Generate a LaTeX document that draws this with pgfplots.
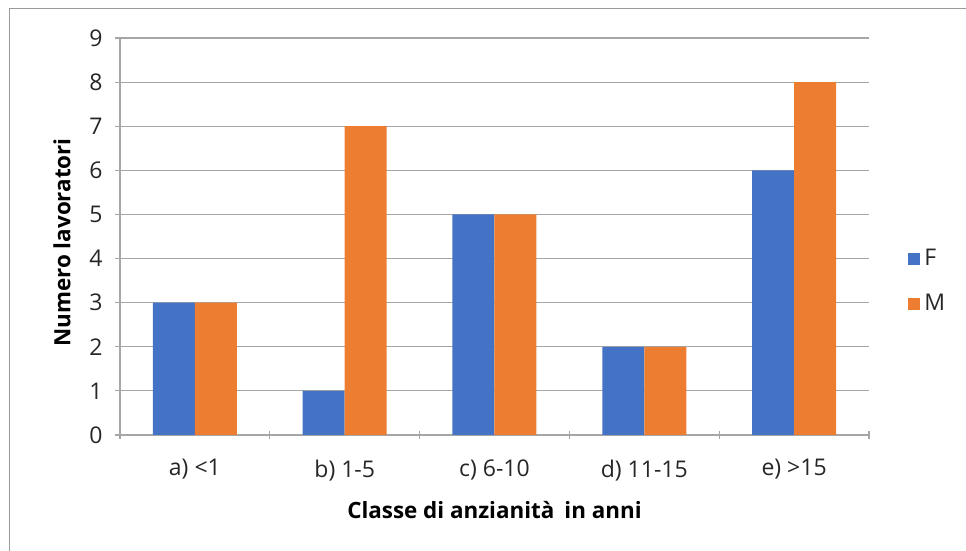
\documentclass[border=0pt]{standalone}
\usepackage{pgfplots}
\pgfplotsset{compat=1.18}
\usepackage{fontspec}
\setmainfont{Open Sans}
\definecolor{cblue}{HTML}{4472C4}
\definecolor{corange}{HTML}{ED7D31}
\definecolor{gridc}{HTML}{A6A6A6}
\definecolor{framec}{HTML}{9A9A9A}
\begin{document}
\begin{tikzpicture}
\useasboundingbox (0,0) rectangle (483pt,275.5pt);
\draw[framec, line width=0.9pt] (4.75pt,0) -- (4.75pt,271.25pt) -- (483pt,271.25pt);
\begin{axis}[
  at={(60pt,58pt)}, anchor=south west,
  scale only axis,
  width=374.5pt, height=198.5pt,
  ybar=0pt, bar width=21pt,
  xmin=-0.5, xmax=4.5,
  ymin=0, ymax=9,
  ytick={0,...,9},
  xtick={0,1,2,3,4},
  xticklabels={a) <1, b) 1-5, c) 6-10, d) 11-15, e) >15},
  minor xtick={-0.5,0.5,1.5,2.5,3.5,4.5},
  major x tick style={draw=none},
  minor tick length=4pt,
  major tick length=4.5pt,
  tick align=outside,
  axis x line=bottom, axis y line=left,
  axis line style={gridc, line width=0.6pt, -},
  every tick/.style={gridc, line width=0.6pt},
  ymajorgrids, grid style={gridc, line width=0.6pt},
  /pgf/number format/assume math mode=true,
  ticklabel style={font=\fontsize{11.5}{13}\selectfont, text=black!85},
  yticklabel style={xshift=-3pt},
  xticklabel style={yshift=-6.5pt},
  xlabel={Classe di anzianità\hspace{0.45em}in anni},
  ylabel={Numero lavoratori},
  label style={font=\bfseries\fontsize{11.2}{13}\selectfont, text=black},
  xlabel style={at={(axis description cs:0.5,-0.189)}, anchor=center},
  ylabel style={at={(axis description cs:-0.0774,0.485)}, anchor=center},
  legend style={at={(axis description cs:1.052,0.387)}, anchor=west, draw=none, fill=none,
    font=\fontsize{11.5}{13}\selectfont, text=black!85, row sep=8.5pt, inner sep=0pt},
  legend cell align=left,
  legend image code/.code={\fill[#1] (0pt,-3pt) rectangle (6pt,3pt);},
  clip=false,
]
\addplot[fill=cblue, draw=none] coordinates {(0,3) (1,1) (2,5) (3,2) (4,6)};
\addplot[fill=corange, draw=none] coordinates {(0,3) (1,7) (2,5) (3,2) (4,8)};
\legend{F, M}
\end{axis}
\end{tikzpicture}
\end{document}
